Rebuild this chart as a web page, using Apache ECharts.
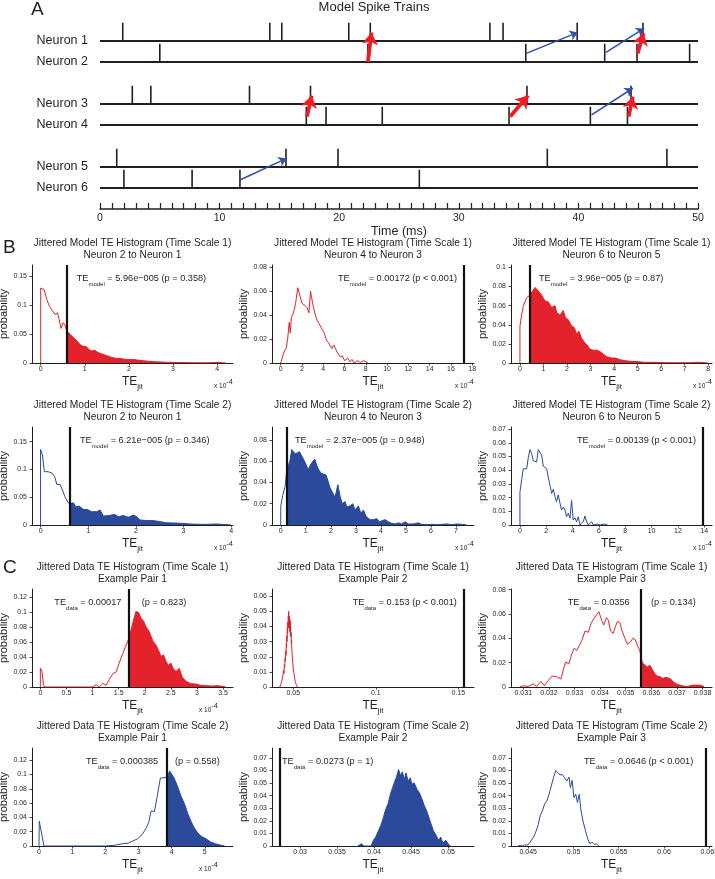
<!DOCTYPE html>
<html><head><meta charset="utf-8">
<script src="https://cdn.jsdelivr.net/npm/echarts@6.0.0/dist/echarts.min.js"></script>
<style>html,body{margin:0;padding:0;background:#fff;}#chart{width:715px;height:879px;}</style>
</head><body><div id="chart"></div>
<script>
// ================= Panel A: model spike trains =================
const neuronNames = ['Neuron 1','Neuron 2','Neuron 3','Neuron 4','Neuron 5','Neuron 6'];
const neuronRows = [1, 2, 4, 5, 7, 8];
const spikesN1 = [1.9, 14.2, 15.2, 20.8, 22.6, 32.6, 33.7, 39.9, 45.4];
const spikesN2 = [5.0, 22.4, 35.6, 42.2, 44.9, 49.3];
const spikesN3 = [2.7, 4.25, 12.5, 17.6, 35.7, 44.4];
const spikesN4 = [17.25, 18.9, 23.6, 34.2, 41.0, 44.1];
const spikesN5 = [1.4, 15.55, 19.9, 37.4, 47.4];
const spikesN6 = [2.0, 7.7, 11.7, 26.7];
const timeRange = [0, 50];
const timeLabels = [0, 10, 20, 30, 40, 50];
// [tailTime, tailRow, headTime, headRow]
const redArrows = [[22.4,2.0,22.7,0.6],[44.95,1.59,45.45,0.63],[17.3,4.6,17.7,3.6],[34.3,4.6,35.8,3.6],[44.2,4.6,44.55,3.65]];
const blueArrows = [[35.65,1.59,39.95,0.59],[42.3,1.54,45.5,0.4],[41.1,4.52,44.55,3.25],[11.7,7.62,15.6,6.59]];

// ================= Panels B, C: histograms =================
const histTitles = [
 'Jittered Model TE Histogram (Time Scale 1)','Jittered Model TE Histogram (Time Scale 1)','Jittered Model TE Histogram (Time Scale 1)',
 'Jittered Model TE Histogram (Time Scale 2)','Jittered Model TE Histogram (Time Scale 2)','Jittered Model TE Histogram (Time Scale 2)',
 'Jittered Data TE Histogram (Time Scale 1)','Jittered Data TE Histogram (Time Scale 1)','Jittered Data TE Histogram (Time Scale 1)',
 'Jittered Data TE Histogram (Time Scale 2)','Jittered Data TE Histogram (Time Scale 2)','Jittered Data TE Histogram (Time Scale 2)'];
const histSubtitles = ['Neuron 2 to Neuron 1','Neuron 4 to Neuron 3','Neuron 6 to Neuron 5',
 'Neuron 2 to Neuron 1','Neuron 4 to Neuron 3','Neuron 6 to Neuron 5',
 'Example Pair 1','Example Pair 2','Example Pair 3','Example Pair 1','Example Pair 2','Example Pair 3'];
const noteSubs = ['model','model','model','model','model','model','data','data','data','data','data','data'];
const noteTexts = [' = 5.96e\u2212005 (p = 0.358)',' = 0.00172 (p < 0.001)',' = 3.96e\u2212005 (p = 0.87)',
 ' = 6.21e\u2212005 (p = 0.346)',' = 2.37e\u2212005 (p = 0.948)',' = 0.00139 (p < 0.001)',
 ' = 0.00017',' = 0.153 (p < 0.001)',' = 0.0356',
 ' = 0.000385',' = 0.0273 (p = 1)',' = 0.0646 (p < 0.001)'];
const pTexts = [null,null,null,null,null,null,'(p = 0.823)',null,'(p = 0.134)','(p = 0.558)',null,null];
// observed TE (x 1e-4 where axis has exponent)
const teValues = [0.596, 17.2, 0.396, 0.621, 0.237, 13.9, 1.7, 0.153, 0.0356, 3.85, 0.0273, 0.0646];
const expLabels = ['-4','-4','-4','-4','-4','-4','-4',null,null,'-4',null,null];
const xTickValues = [
 [0,1,2,3,4],[0,2,4,6,8,10,12,14,16,18],[0,1,2,3,4,5,6,7,8],
 [0,1,2,3,4],[0,1,2,3,4,5,6,7],[0,2,4,6,8,10,12,14],
 [0,0.5,1,1.5,2,2.5,3,3.5],[0.05,0.1,0.15],[0.031,0.032,0.033,0.034,0.035,0.036,0.037,0.038],
 [0,1,2,3,4,5],[0.03,0.035,0.04,0.045,0.05],[0.045,0.05,0.055,0.06,0.065]];
const yTickValues = [
 [0,0.05,0.1,0.15],[0,0.02,0.04,0.06,0.08],[0,0.02,0.04,0.06,0.08,0.1],
 [0,0.05,0.1,0.15],[0,0.02,0.04,0.06,0.08],[0,0.01,0.02,0.03,0.04,0.05,0.06,0.07],
 [0,0.02,0.04,0.06,0.08,0.1,0.12],[0,0.01,0.02,0.03,0.04,0.05,0.06],[0,0.02,0.04,0.06,0.08],
 [0,0.02,0.04,0.06,0.08,0.1,0.12],[0,0.01,0.02,0.03,0.04,0.05,0.06,0.07],[0,0.01,0.02,0.03,0.04,0.05,0.06,0.07]];

const histB11 = [[0,0],[0,0.13],[0.08,0.127],[0.14,0.11],[0.2,0.098],[0.27,0.09],[0.33,0.084],[0.38,0.087],[0.42,0.075],[0.46,0.06],[0.51,0.07],[0.55,0.066],[0.59,0.056],[0.63,0.053],[0.7,0.047],[0.76,0.043],[0.83,0.038],[0.88,0.033],[0.93,0.03],[0.98,0.029],[1.04,0.028],[1.1,0.023],[1.15,0.021],[1.23,0.022],[1.28,0.019],[1.34,0.017],[1.41,0.015],[1.49,0.013],[1.56,0.011],[1.64,0.009],[1.72,0.008],[1.8,0.008],[1.87,0.007],[1.95,0.006],[2.03,0.006],[2.1,0.006],[2.2,0.005],[2.32,0.004],[2.45,0.003],[2.62,0.002],[2.8,0.0015],[3.0,0.001],[3.2,0.0008],[3.4,0.0005],[3.6,0.0004],[3.8,0.0003],[3.95,0.001],[4.02,0.0012],[4.1,0.0005],[4.2,0]];
const histB12 = [[0,0],[0.19,0.006],[0.34,0.01],[0.5,0.012],[0.65,0.02],[0.8,0.034],[0.9,0.025],[1.0,0.038],[1.2,0.042],[1.4,0.05],[1.6,0.063],[1.75,0.058],[2.0,0.05],[2.3,0.048],[2.5,0.046],[2.65,0.042],[2.8,0.06],[3.0,0.05],[3.2,0.042],[3.4,0.036],[3.6,0.033],[3.9,0.028],[4.1,0.025],[4.3,0.019],[4.5,0.017],[4.6,0.018],[4.8,0.012],[5.0,0.015],[5.3,0.009],[5.6,0.005],[5.8,0.006],[6.0,0.002],[6.3,0.004],[6.5,0.001],[6.7,0.003],[6.9,0],[7.2,0.002],[7.5,0.0005],[7.8,0.002],[8.0,0.001],[8.2,0]];
const histB13 = [[0,0],[0,0.0386],[0.07,0.05],[0.14,0.059],[0.21,0.064],[0.28,0.068],[0.35,0.07],[0.42,0.071],[0.5,0.074],[0.64,0.079],[0.78,0.0755],[0.92,0.071],[1.06,0.065],[1.2,0.064],[1.35,0.058],[1.49,0.06],[1.56,0.053],[1.7,0.05],[1.84,0.055],[1.94,0.047],[2.05,0.0455],[2.2,0.0386],[2.31,0.037],[2.41,0.03],[2.5,0.0334],[2.62,0.026],[2.76,0.021],[2.88,0.018],[2.97,0.0145],[3.12,0.0134],[3.26,0.0134],[3.4,0.012],[3.54,0.0093],[3.68,0.0066],[3.9,0.0052],[4.04,0.0052],[4.25,0.0034],[4.46,0.0024],[4.75,0.0017],[5.03,0.0014],[5.3,0.0007],[5.7,0.0007],[6.2,0.0003],[6.6,0.0003],[7.15,0.0003],[7.5,0.0007],[7.7,0.0007],[8.0,0]];
const histB21 = [[0,0],[0,0.136],[0.04,0.126],[0.08,0.096],[0.16,0.096],[0.2,0.094],[0.25,0.093],[0.3,0.086],[0.34,0.073],[0.41,0.073],[0.46,0.063],[0.51,0.051],[0.58,0.04],[0.63,0.039],[0.69,0.04],[0.74,0.033],[0.81,0.034],[0.9,0.028],[0.98,0.028],[1.07,0.024],[1.18,0.024],[1.25,0.027],[1.32,0.016],[1.42,0.017],[1.56,0.019],[1.63,0.015],[1.74,0.017],[1.84,0.014],[1.95,0.018],[2.02,0.015],[2.09,0.009],[2.23,0.008],[2.37,0.008],[2.51,0.006],[2.65,0.004],[2.79,0.0036],[2.96,0.003],[3.0,0.0018],[3.14,0.0018],[3.35,0.0012],[3.49,0.0012],[3.7,0.0018],[3.8,0.0012],[3.91,0.0006],[4.0,0]];
const histB22 = [[0,0],[0,0.018],[0.08,0.028],[0.17,0.036],[0.24,0.051],[0.31,0.052],[0.37,0.061],[0.44,0.071],[0.51,0.069],[0.57,0.067],[0.67,0.068],[0.75,0.069],[0.84,0.065],[0.93,0.061],[1.01,0.057],[1.1,0.052],[1.17,0.056],[1.28,0.06],[1.36,0.062],[1.44,0.056],[1.52,0.052],[1.6,0.049],[1.7,0.048],[1.81,0.047],[1.88,0.042],[1.97,0.035],[2.08,0.03],[2.17,0.026],[2.28,0.038],[2.37,0.027],[2.46,0.02],[2.57,0.022],[2.64,0.017],[2.77,0.018],[2.88,0.02],[2.97,0.014],[3.1,0.018],[3.2,0.011],[3.3,0.014],[3.41,0.008],[3.57,0.005],[3.7,0.005],[3.83,0.006],[3.94,0.003],[4.03,0.004],[4.17,0.005],[4.3,0.003],[4.43,0.0016],[4.57,0.001],[4.7,0.002],[4.83,0.001],[4.97,0.003],[5.1,0.001],[5.3,0.001],[5.5,0.002],[5.63,0.0006],[5.83,0.0003],[6.03,0.0006],[6.23,0.0003],[6.43,0.0006],[6.63,0.001],[6.83,0.0003],[7.03,0.001],[7.23,0.0006],[7.43,0]];
const histB23 = [[0,0],[0,0.024],[0.13,0.033],[0.25,0.041],[0.38,0.04],[0.51,0.041],[0.63,0.049],[0.76,0.055],[0.89,0.052],[1.01,0.047],[1.14,0.048],[1.27,0.046],[1.39,0.055],[1.52,0.055],[1.65,0.051],[1.77,0.043],[1.9,0.044],[2.03,0.041],[2.15,0.035],[2.28,0.029],[2.41,0.023],[2.53,0.026],[2.66,0.021],[2.78,0.017],[2.91,0.022],[3.04,0.016],[3.16,0.011],[3.29,0.013],[3.42,0.011],[3.54,0.006],[3.67,0.0085],[3.8,0.005],[3.92,0.018],[4.05,0.0036],[4.18,0.0053],[4.3,0.0024],[4.43,0.006],[4.56,0],[4.68,0.0012],[4.81,0.0024],[4.94,0.0066],[5.06,0.0024],[5.19,0],[5.32,0.0012],[5.44,0.0024],[5.57,0],[5.7,0.0012],[5.9,0.0007],[6.08,0],[6.46,0.0007],[6.66,0]];
const histC11 = [[0,0],[0,0.025],[0.03,0.021],[0.06,0.003],[0.08,0],[1.0,0],[1.07,0.003],[1.13,0],[1.2,0.005],[1.26,0.002],[1.32,0.01],[1.39,0.018],[1.45,0.02],[1.51,0.032],[1.58,0.045],[1.63,0.054],[1.69,0.064],[1.74,0.077],[1.78,0.088],[1.83,0.101],[1.88,0.1],[1.93,0.092],[1.98,0.088],[2.02,0.081],[2.08,0.075],[2.12,0.068],[2.16,0.061],[2.21,0.057],[2.27,0.048],[2.31,0.041],[2.36,0.043],[2.41,0.034],[2.45,0.029],[2.5,0.032],[2.55,0.024],[2.6,0.021],[2.66,0.025],[2.72,0.013],[2.79,0.0076],[2.88,0.0045],[2.98,0.004],[3.07,0.0022],[3.17,0.0018],[3.3,0.0013],[3.39,0.0018],[3.49,0.0009],[3.55,0]];
const histC12 = [[0.0419,0],[0.0425,0.002],[0.043,0.0035],[0.0434,0.006],[0.0438,0.008],[0.0441,0.011],[0.0444,0.009],[0.0446,0.015],[0.0448,0.013],[0.045,0.019],[0.0452,0.017],[0.0454,0.024],[0.0456,0.021],[0.0458,0.029],[0.0459,0.026],[0.0461,0.034],[0.0462,0.03],[0.0464,0.039],[0.0465,0.035],[0.0467,0.043],[0.0468,0.039],[0.047,0.047],[0.0471,0.041],[0.0472,0.05],[0.0473,0.04],[0.0474,0.047],[0.0475,0.039],[0.0476,0.046],[0.0477,0.038],[0.0478,0.045],[0.0479,0.037],[0.048,0.044],[0.0481,0.036],[0.0482,0.043],[0.0483,0.035],[0.0484,0.04],[0.0485,0.033],[0.0487,0.036],[0.0488,0.029],[0.049,0.031],[0.0491,0.025],[0.0493,0.026],[0.0494,0.02],[0.0496,0.021],[0.0497,0.016],[0.0499,0.017],[0.05,0.012],[0.0502,0.013],[0.0504,0.009],[0.0506,0.01],[0.0508,0.006],[0.051,0.007],[0.0513,0.003],[0.0516,0.004],[0.052,0.001],[0.0524,0]];
const histC13 = [[0.03087,0],[0.031,0.001],[0.0312,0.0005],[0.03139,0.0025],[0.03152,0.0005],[0.03169,0.0045],[0.03182,0.001],[0.03198,0.0055],[0.03213,0.009],[0.0323,0.0085],[0.03247,0.0065],[0.03256,0.014],[0.03265,0.0205],[0.03278,0.019],[0.03289,0.027],[0.03299,0.032],[0.03308,0.03],[0.03321,0.035],[0.0333,0.039],[0.03341,0.046],[0.03354,0.045],[0.03364,0.052],[0.03375,0.056],[0.03385,0.059],[0.03395,0.062],[0.03406,0.055],[0.03414,0.051],[0.03425,0.057],[0.03432,0.055],[0.03441,0.046],[0.03451,0.044],[0.0346,0.05],[0.03468,0.054],[0.03477,0.053],[0.03486,0.046],[0.03497,0.04],[0.03507,0.035],[0.03518,0.037],[0.03528,0.04],[0.03537,0.039],[0.03546,0.034],[0.03555,0.03],[0.03565,0.02],[0.03575,0.018],[0.03585,0.0165],[0.03594,0.018],[0.03605,0.014],[0.03614,0.011],[0.03624,0.009],[0.03635,0.0085],[0.03644,0.007],[0.03656,0.008],[0.03666,0.0075],[0.03676,0.0065],[0.03687,0.004],[0.03699,0.0025],[0.03712,0.0015],[0.03725,0.0008],[0.03744,0.0005],[0.03757,0.0015],[0.03777,0.0016],[0.03796,0.0014],[0.03807,0]];
const histC21 = [[0,0],[0.01,0.0346],[0.1,0.0125],[0.15,0],[2.0,0],[2.28,0.001],[2.49,0.003],[2.69,0.004],[2.83,0.007],[2.97,0.01],[3.11,0.016],[3.22,0.024],[3.31,0.033],[3.38,0.049],[3.48,0.048],[3.56,0.068],[3.66,0.095],[3.8,0.0955],[3.87,0.097],[3.94,0.105],[4.0,0.107],[4.07,0.0955],[4.19,0.082],[4.28,0.07],[4.39,0.0586],[4.49,0.0448],[4.6,0.033],[4.7,0.024],[4.81,0.017],[4.9,0.0134],[5.04,0.01],[5.18,0.0055],[5.32,0.0032],[5.46,0.0014],[5.6,0]];
const histC22 = [[0.0378,0],[0.0383,0.0018],[0.0386,0],[0.0396,0],[0.0399,0.0045],[0.0402,0.007],[0.0406,0.0123],[0.0409,0.0163],[0.0412,0.0215],[0.0415,0.028],[0.0419,0.0338],[0.0422,0.0412],[0.0425,0.0464],[0.0428,0.0517],[0.043,0.0543],[0.0433,0.0608],[0.0436,0.0556],[0.0438,0.059],[0.0441,0.053],[0.0443,0.0582],[0.0446,0.0517],[0.0449,0.0543],[0.0451,0.049],[0.0454,0.0503],[0.0458,0.0451],[0.0461,0.0425],[0.0464,0.0385],[0.0467,0.0333],[0.0471,0.028],[0.0474,0.0228],[0.0477,0.0176],[0.048,0.0123],[0.0484,0.0084],[0.0487,0.0045],[0.049,0.007],[0.0493,0.0024],[0.0497,0.0045],[0.05,0.0018],[0.0503,0]];
const histC23 = [[0.04387,0],[0.04412,0.0005],[0.04436,0],[0.04461,0.001],[0.04485,0.0005],[0.0451,0.0018],[0.04534,0.0045],[0.04559,0.007],[0.04583,0.011],[0.04608,0.0163],[0.04632,0.0241],[0.04657,0.028],[0.04681,0.0333],[0.04706,0.0359],[0.0473,0.0412],[0.04755,0.0477],[0.04779,0.0543],[0.04804,0.06],[0.04828,0.0582],[0.04853,0.0564],[0.04877,0.0569],[0.04902,0.0543],[0.04926,0.0517],[0.04951,0.0548],[0.04966,0.0464],[0.04985,0.0522],[0.05005,0.0385],[0.05025,0.0412],[0.05044,0.0346],[0.05064,0.0412],[0.05083,0.028],[0.05108,0.0189],[0.05132,0.0123],[0.05157,0.0058],[0.05181,0.0018],[0.05206,0.0031],[0.0523,0.0013],[0.05255,0.0018],[0.05279,0]];
const histData = [histB11, histB12, histB13, histB21, histB22, histB23, histC11, histC12, histC13, histC21, histC22, histC23];

// ================= layout & style =================
const RED = '#e3222b', BLUE = '#2b4a9c', INK = '#231f20', CLEAR = 'rgba(255,255,255,0)';
const FONT = '"Liberation Sans", Arial, Helvetica, sans-serif';
const panelColors = [RED,RED,RED,BLUE,BLUE,BLUE,RED,RED,RED,BLUE,BLUE,BLUE];
const colLeft = [32, 272, 511], colWidth = [201, 202, 201];
const rowTop = [265, 427, 589, 748], rowHeight = 98;
const xExtent = [[-0.197,4.36],[-0.82,18.17],[-0.38,8.16],[-0.18,4.04],[-0.35,7.72],[-0.68,14.59],
  [-0.16,3.69],[0.0371,0.1595],[0.03052,0.03837],[-0.21,5.85],[0.0262,0.0535],[0.0431,0.0653]];
const yTop = [0.17,0.082,0.1025,0.1765,0.0922,0.0715,0.1313,0.0648,0.0806,0.137,0.0779,0.0779];
const noteX = [76.7,338,539,80,295,577,54.3,352.7,567.7,86,282,584];
const pX = [0,0,0,0,0,0,141.7,0,651,175,0,0];
const NOTE_FS = 9.2, NOTE_SUB_FS = 6;
const SPIKE_H = 0.87;

const fmt = v => String(+(+v).toPrecision(6));

const option = {animation:false, textStyle:{fontFamily:FONT}, grid:[], xAxis:[], yAxis:[], series:[], graphic:[]};

// ---- Panel A grid
option.grid.push({left:100, top:20, width:598, height:168, outerBoundsMode:'none'});
option.xAxis.push({gridIndex:0, type:'value', min:timeRange[0], max:timeRange[1], interval:1, offset:21,
  axisLine:{show:true, onZero:false, lineStyle:{color:INK, width:1.5}},
  axisTick:{show:true, inside:true, length:6, lineStyle:{color:INK, width:1.2}},
  axisLabel:{customValues:timeLabels, fontSize:10.5, color:INK, margin:4, fontFamily:FONT},
  splitLine:{show:false}, name:'Time (ms)', nameLocation:'middle', nameGap:13,
  nameTextStyle:{fontSize:12.5, color:INK, fontFamily:FONT}});
option.yAxis.push({gridIndex:0, type:'value', min:0, max:8, inverse:true,
  axisLine:{show:false, onZero:false}, axisTick:{show:false}, splitLine:{show:false},
  axisLabel:{customValues:neuronRows, formatter:v => neuronNames[neuronRows.indexOf(v)],
    fontSize:12.5, color:INK, margin:12, padding:[0,0,20,0], fontFamily:FONT}});
option.series.push({type:'custom', xAxisIndex:0, yAxisIndex:0, silent:true,
  data: neuronRows.map(r => [timeRange[0], r]),
  renderItem:(p, api) => {
    const a = api.coord([timeRange[0], api.value(1)]), b = api.coord([timeRange[1], api.value(1)]);
    return {type:'line', shape:{x1:a[0], y1:a[1], x2:b[0], y2:b[1]}, style:{stroke:INK, lineWidth:1.8}};
  }});
const spikeLists = [spikesN1, spikesN2, spikesN3, spikesN4, spikesN5, spikesN6];
const spikeData = [];
spikeLists.forEach((lst, k) => lst.forEach(t => spikeData.push([t, neuronRows[k]])));
option.series.push({type:'custom', xAxisIndex:0, yAxisIndex:0, silent:true, data:spikeData,
  renderItem:(p, api) => {
    const a = api.coord([api.value(0), api.value(1)]), b = api.coord([api.value(0), api.value(1) - SPIKE_H]);
    return {type:'line', shape:{x1:a[0], y1:a[1], x2:b[0], y2:b[1]}, style:{stroke:INK, lineWidth:1.6}};
  }});
option.series.push({type:'lines', coordinateSystem:'cartesian2d', xAxisIndex:0, yAxisIndex:0, silent:true,
  symbol:['none','arrow'], symbolSize:8, lineStyle:{color:'#2f4fa8', width:1.5, opacity:1, curveness:0},
  data: blueArrows.map(a => ({coords:[[a[0],a[1]],[a[2],a[3]]]}))});
option.series.push({type:'lines', coordinateSystem:'cartesian2d', xAxisIndex:0, yAxisIndex:0, silent:true,
  symbol:['none','arrow'], symbolSize:12, lineStyle:{color:'#ee1c25', width:3.8, opacity:1, curveness:0},
  data: redArrows.map(a => ({coords:[[a[0],a[1]],[a[2],a[3]]]}))});

// ---- text helpers
function txt(x, y, text, size, align) {
  return {type:'text', x:x, y:y, silent:true, z:50,
    style:{text:text, fill:INK, font: size + 'px ' + FONT, fontSize:size, fontFamily:FONT,
      align:align, textAlign:align, verticalAlign:'middle', textVerticalAlign:'middle'}};
}
option.graphic.push(txt(374, 7, 'Model Spike Trains', 13, 'center'));
option.graphic.push(txt(31, 10, 'A', 19, 'left'));
option.graphic.push(txt(3, 248, 'B', 19, 'left'));
option.graphic.push(txt(3, 568, 'C', 19, 'left'));

// ---- histogram panels
histData.forEach((data, i) => {
  const r = Math.floor(i / 3), c = i % 3, g = i + 1;
  const left = colLeft[c], width = colWidth[c], top = rowTop[r];
  const col = panelColors[i];
  option.grid.push({left:left, top:top, width:width, height:rowHeight, outerBoundsMode:'none'});
  option.xAxis.push({gridIndex:g, type:'value', min:xExtent[i][0], max:xExtent[i][1],
    axisLine:{show:true, onZero:false, lineStyle:{color:INK, width:1}},
    axisTick:{show:true, customValues:xTickValues[i], length:2.5, lineStyle:{color:INK, width:0.8}},
    axisLabel:{customValues:xTickValues[i], formatter:fmt, fontSize:7, color:INK, margin:3, fontFamily:FONT},
    splitLine:{show:false},
    name:'{t|TE}{j|jit}', nameLocation:'middle', nameGap:10,
    nameTextStyle:{color:INK, rich:{t:{fontSize:12, lineHeight:18, fontFamily:FONT, color:INK},
      j:{fontSize:8, lineHeight:8, verticalAlign:'bottom', fontFamily:FONT, color:INK}}}});
  option.yAxis.push({gridIndex:g, type:'value', min:0, max:yTop[i],
    axisLine:{show:true, onZero:false, lineStyle:{color:INK, width:1}},
    axisTick:{show:true, customValues:yTickValues[i], length:2.5, lineStyle:{color:INK, width:0.8}},
    axisLabel:{customValues:yTickValues[i], formatter:fmt, fontSize:7, color:INK, margin:5, fontFamily:FONT},
    splitLine:{show:false}, name:'probability', nameLocation:'middle', nameGap:20,
    nameTextStyle:{fontSize:11, color:INK, fontFamily:FONT}});
  option.series.push({id:'fill' + i, type:'line', xAxisIndex:g, yAxisIndex:g, data:data, showSymbol:false, silent:true,
    lineStyle:{width:0}, areaStyle:{opacity:1, color:CLEAR}, z:2});
  option.series.push({id:'line' + i, type:'line', xAxisIndex:g, yAxisIndex:g, data:data, showSymbol:false, silent:true,
    lineStyle:{color:col, width:1}, itemStyle:{color:col}, z:3,
    markLine:{silent:true, symbol:['none','none'], label:{show:false}, animation:false, precision:8,
      lineStyle:{color:'#111', width:2.2, type:'solid'}, emphasis:{disabled:true},
      data:[{xAxis:teValues[i]}]}});
  const cx = left + width / 2;
  option.graphic.push(txt(cx, top - 21.5, histTitles[i], 10.2, 'center'));
  option.graphic.push(txt(cx, top - 10, histSubtitles[i], 10.2, 'center'));
  const note = '{a|TE}{s|' + noteSubs[i] + '}{a|' + noteTexts[i] + '}';
  option.graphic.push({type:'text', x:noteX[i], y:top + 13.5, silent:true, z:50,
    style:{text:note, fill:INK, align:'left', textAlign:'left', verticalAlign:'middle', textVerticalAlign:'middle',
      rich:{a:{fontSize:NOTE_FS, lineHeight:17, fontFamily:FONT, fill:INK, color:INK},
            s:{fontSize:NOTE_SUB_FS, lineHeight:6, verticalAlign:'bottom', fontFamily:FONT, fill:INK, color:INK}}}});
  if (pTexts[i]) option.graphic.push(txt(pX[i], top + 13.5, pTexts[i], NOTE_FS, 'left'));
  if (expLabels[i]) {
    const ex = (r < 2) ? left + width : 218;
    option.graphic.push({type:'text', x:ex, y:top + rowHeight + 21, silent:true, z:50,
      style:{text:'{m|x 10}{e|' + expLabels[i] + '}', align:'right', textAlign:'right', verticalAlign:'middle', textVerticalAlign:'middle',
        rich:{m:{fontSize:6.5, lineHeight:12, verticalAlign:'bottom', fontFamily:FONT, fill:INK, color:INK},
              e:{fontSize:7.5, lineHeight:8, verticalAlign:'top', fontFamily:FONT, fill:INK, color:INK}}}});
  }
});

const chart = echarts.init(document.getElementById('chart'), null, {renderer:'canvas'});
chart.setOption(option);

// fill the part of each histogram at or beyond the observed TE, using the axis scale for the cut
const fillUpdates = histData.map((data, i) => {
  const c = i % 3, left = colLeft[c], width = colWidth[c];
  const px = chart.convertToPixel({xAxisIndex: i + 1}, teValues[i]);
  const f = Math.min(1, Math.max(0, (px - left) / width));
  const col = panelColors[i];
  const grad = new echarts.graphic.LinearGradient(left, 0, left + width, 0, [
    {offset:0, color:CLEAR}, {offset:f, color:CLEAR}, {offset:f, color:col}, {offset:1, color:col}], true);
  return {id:'fill' + i, areaStyle:{opacity:1, color:grad}};
});
chart.setOption({series: fillUpdates});
</script>
</body></html>
